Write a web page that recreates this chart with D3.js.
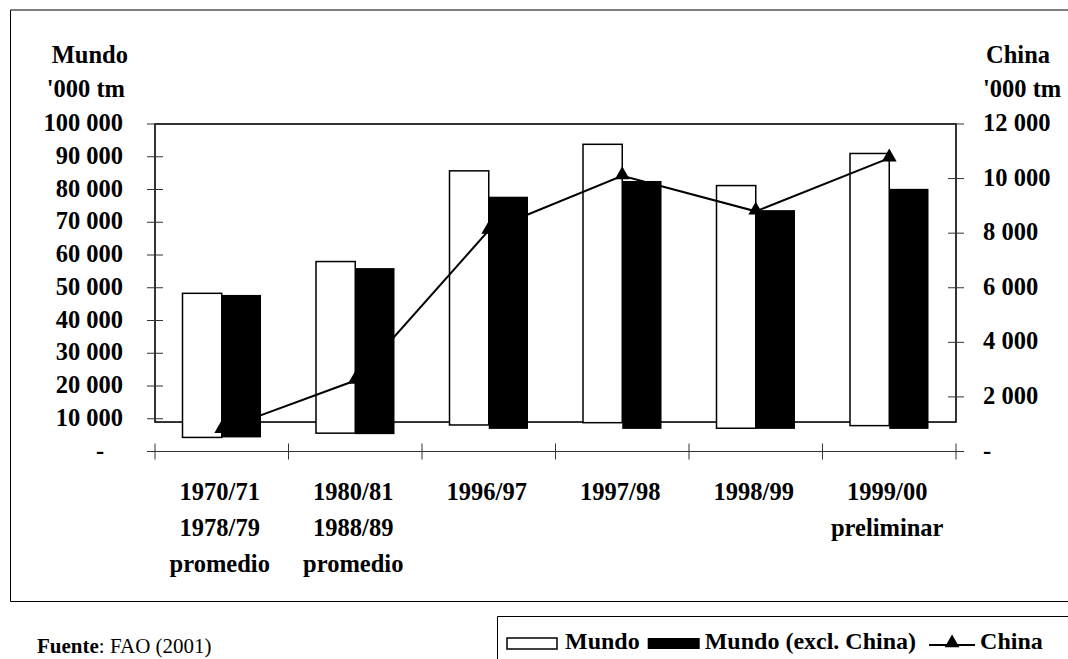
<html>
<head>
<script src="https://cdn.jsdelivr.net/npm/d3@7"></script>
<style>
  body { margin: 0; background: #fff; }
  text { font-family: "Liberation Serif", "Times New Roman", serif; }
</style>
</head>
<body>
<div id="chart"></div>
<script type="text/javascript">

// ---- data ----
const categories = [
    ["1970/71", "1978/79", "promedio"],
    ["1980/81", "1988/89", "promedio"],
    ["1996/97"],
    ["1997/98"],
    ["1998/99"],
    ["1999/00", "preliminar"]
]
const mundo      = [48300, 58000, 85700, 93800, 81200, 91000]   // '000 tm
const mundoExcl  = [47800, 56000, 77800, 82600, 73700, 80200]   // '000 tm
const china      = [800, 2600, 8100, 10100, 8800, 10750]        // '000 tm, right axis
// the bars in the original do not start at zero; their lower ends (left-axis units)
const mundoBase  = [4300, 5600, 8100, 8800, 7100, 7900]
const exclBase   = [4300, 5300, 6900, 6900, 6900, 6900]
const leftTicks  = [0, 10000, 20000, 30000, 40000, 50000, 60000, 70000, 80000, 90000, 100000]
const rightTicks = [0, 2000, 4000, 6000, 8000, 10000, 12000]
const legendLabels = ["Mundo", "Mundo (excl. China)", "China"]

const W = 1068, H = 659
const svg = d3.select("#chart").append("svg").attr("width", W).attr("height", H)

const fmt = v => v === 0 ? "-" : d3.format(",")(v).replace(/,/g, " ")
const FS = 24.5

// outer frame of the chart area
svg.append("path").attr("d", `M${W + 2},10 H10.5 V601.5 H${W + 2}`)
    .attr("fill", "none").attr("stroke", "#000").attr("stroke-width", 1)

const plotL = 155, plotR = 956, plotT = 124, zeroY = 451.5

const x = d3.scaleBand().domain(d3.range(categories.length)).range([plotL, plotR]).padding(0)
const yL = d3.scaleLinear().domain([0, 100000]).range([zeroY, plotT])
const yR = d3.scaleLinear().domain([0, 12000]).range([zeroY, plotT])
const boxBottom = yL(9000)
const barW = x.bandwidth() * 0.294

// plot box
svg.append("rect")
    .attr("x", plotL).attr("y", plotT)
    .attr("width", plotR - plotL).attr("height", boxBottom - plotT)
    .attr("fill", "none").attr("stroke", "#000").attr("stroke-width", 1.6)

// left ticks (crossing the axis line)
svg.selectAll(".lt").data(leftTicks.filter(d => d > 0)).enter().append("line")
    .attr("x1", plotL - 8).attr("x2", plotL + 8)
    .attr("y1", d => yL(d)).attr("y2", d => yL(d))
    .attr("stroke", "#333").attr("stroke-width", 1)
svg.selectAll(".ll").data(leftTicks).enter().append("text")
    .attr("x", d => d === 0 ? 100 : 123)
    .attr("y", d => yL(d) + 7)
    .attr("text-anchor", d => d === 0 ? "middle" : "end")
    .attr("font-size", FS).attr("font-weight", "bold")
    .text(fmt)

// right ticks
svg.selectAll(".rt").data(rightTicks.filter(d => d > 0)).enter().append("line")
    .attr("x1", plotR - 8).attr("x2", plotR + 8)
    .attr("y1", d => yR(d)).attr("y2", d => yR(d))
    .attr("stroke", "#333").attr("stroke-width", 1)
svg.selectAll(".rl").data(rightTicks).enter().append("text")
    .attr("x", 983)
    .attr("y", d => yR(d) + 7)
    .attr("font-size", FS).attr("font-weight", "bold")
    .text(fmt)

// x axis at zero with crossing ticks
svg.append("line").attr("x1", plotL - 8).attr("x2", plotR + 8)
    .attr("y1", zeroY).attr("y2", zeroY).attr("stroke", "#333").attr("stroke-width", 1)
const bounds = d3.range(categories.length + 1).map(i => i < categories.length ? x(i) : plotR)
svg.selectAll(".xt").data(bounds).enter().append("line")
    .attr("x1", d => d).attr("x2", d => d)
    .attr("y1", zeroY - 8).attr("y2", zeroY + 8)
    .attr("stroke", "#333").attr("stroke-width", 1)

// category labels
const xl = svg.selectAll(".xl").data(categories).enter().append("text")
    .attr("text-anchor", "middle")
    .attr("font-size", FS).attr("font-weight", "bold")
xl.selectAll("tspan").data((d, i) => d.map(s => ({ s, i }))).enter().append("tspan")
    .attr("x", d => x(d.i) + x.bandwidth() / 2 - 2)
    .attr("y", (d, j) => 500 + j * 36)
    .text(d => d.s)

// axis titles
svg.append("text").attr("x", 128).attr("y", 63).attr("text-anchor", "end")
    .attr("font-size", FS).attr("font-weight", "bold").text("Mundo")
svg.append("text").attr("x", 125).attr("y", 97).attr("text-anchor", "end")
    .attr("font-size", FS).attr("font-weight", "bold").text("'000 tm")
svg.append("text").attr("x", 986).attr("y", 63)
    .attr("font-size", FS).attr("font-weight", "bold").text("China")
svg.append("text").attr("x", 983).attr("y", 97)
    .attr("font-size", FS).attr("font-weight", "bold").text("'000 tm")

// bars: Mundo (white) left of centre, Mundo excl. China (black) right of centre
svg.selectAll(".bw").data(mundo).enter().append("rect")
    .attr("x", (d, i) => x(i) + x.bandwidth() / 2 - barW)
    .attr("y", d => yL(d))
    .attr("width", barW)
    .attr("height", (d, i) => yL(mundoBase[i]) - yL(d))
    .attr("fill", "#fff").attr("stroke", "#000").attr("stroke-width", 1.5)

svg.selectAll(".bb").data(mundoExcl).enter().append("rect")
    .attr("x", (d, i) => x(i) + x.bandwidth() / 2)
    .attr("y", d => yL(d))
    .attr("width", barW)
    .attr("height", (d, i) => yL(exclBase[i]) - yL(d))
    .attr("fill", "#000")

// China line on the right axis
const line = d3.line()
    .x((d, i) => x(i) + x.bandwidth() / 2)
    .y(d => yR(d))
svg.append("path").datum(china).attr("d", line)
    .attr("fill", "none").attr("stroke", "#000").attr("stroke-width", 2)
const tri = d3.symbol().type(d3.symbolTriangle).size(95)
svg.selectAll(".mk").data(china).enter().append("path")
    .attr("d", tri)
    .attr("transform", (d, i) => `translate(${x(i) + x.bandwidth() / 2},${yR(d) - 1})`)
    .attr("fill", "#000")

// source
const src = svg.append("text").attr("x", 37).attr("y", 653).attr("font-size", 21)
src.append("tspan").attr("font-weight", "bold").text("Fuente")
src.append("tspan").text(": FAO (2001)")

// legend box
svg.append("path").attr("d", `M497.5,${H + 2} V616.5 H${W + 2}`)
    .attr("fill", "none").attr("stroke", "#000").attr("stroke-width", 1)

const lg = svg.append("g")
const base = 649, LFS = 24
let cx = 507
lg.append("rect").attr("x", cx).attr("y", 638).attr("width", 50).attr("height", 11)
    .attr("fill", "#fff").attr("stroke", "#000").attr("stroke-width", 1.5)
cx += 58
let t = lg.append("text").attr("x", cx).attr("y", base).attr("font-size", LFS)
    .attr("font-weight", "bold").text(legendLabels[0])
cx += t.node().getComputedTextLength() + 8
lg.append("rect").attr("x", cx).attr("y", 638).attr("width", 52).attr("height", 11).attr("fill", "#000")
cx += 57
t = lg.append("text").attr("x", cx).attr("y", base).attr("font-size", LFS)
    .attr("font-weight", "bold").text(legendLabels[1])
cx += t.node().getComputedTextLength() + 13
lg.append("line").attr("x1", cx).attr("x2", cx + 46).attr("y1", 645).attr("y2", 645)
    .attr("stroke", "#000").attr("stroke-width", 2)
lg.append("path").attr("d", tri).attr("transform", `translate(${cx + 23},643)`).attr("fill", "#000")
cx += 51
lg.append("text").attr("x", cx).attr("y", base).attr("font-size", LFS)
    .attr("font-weight", "bold").text(legendLabels[2])

</script>
</body>
</html>
